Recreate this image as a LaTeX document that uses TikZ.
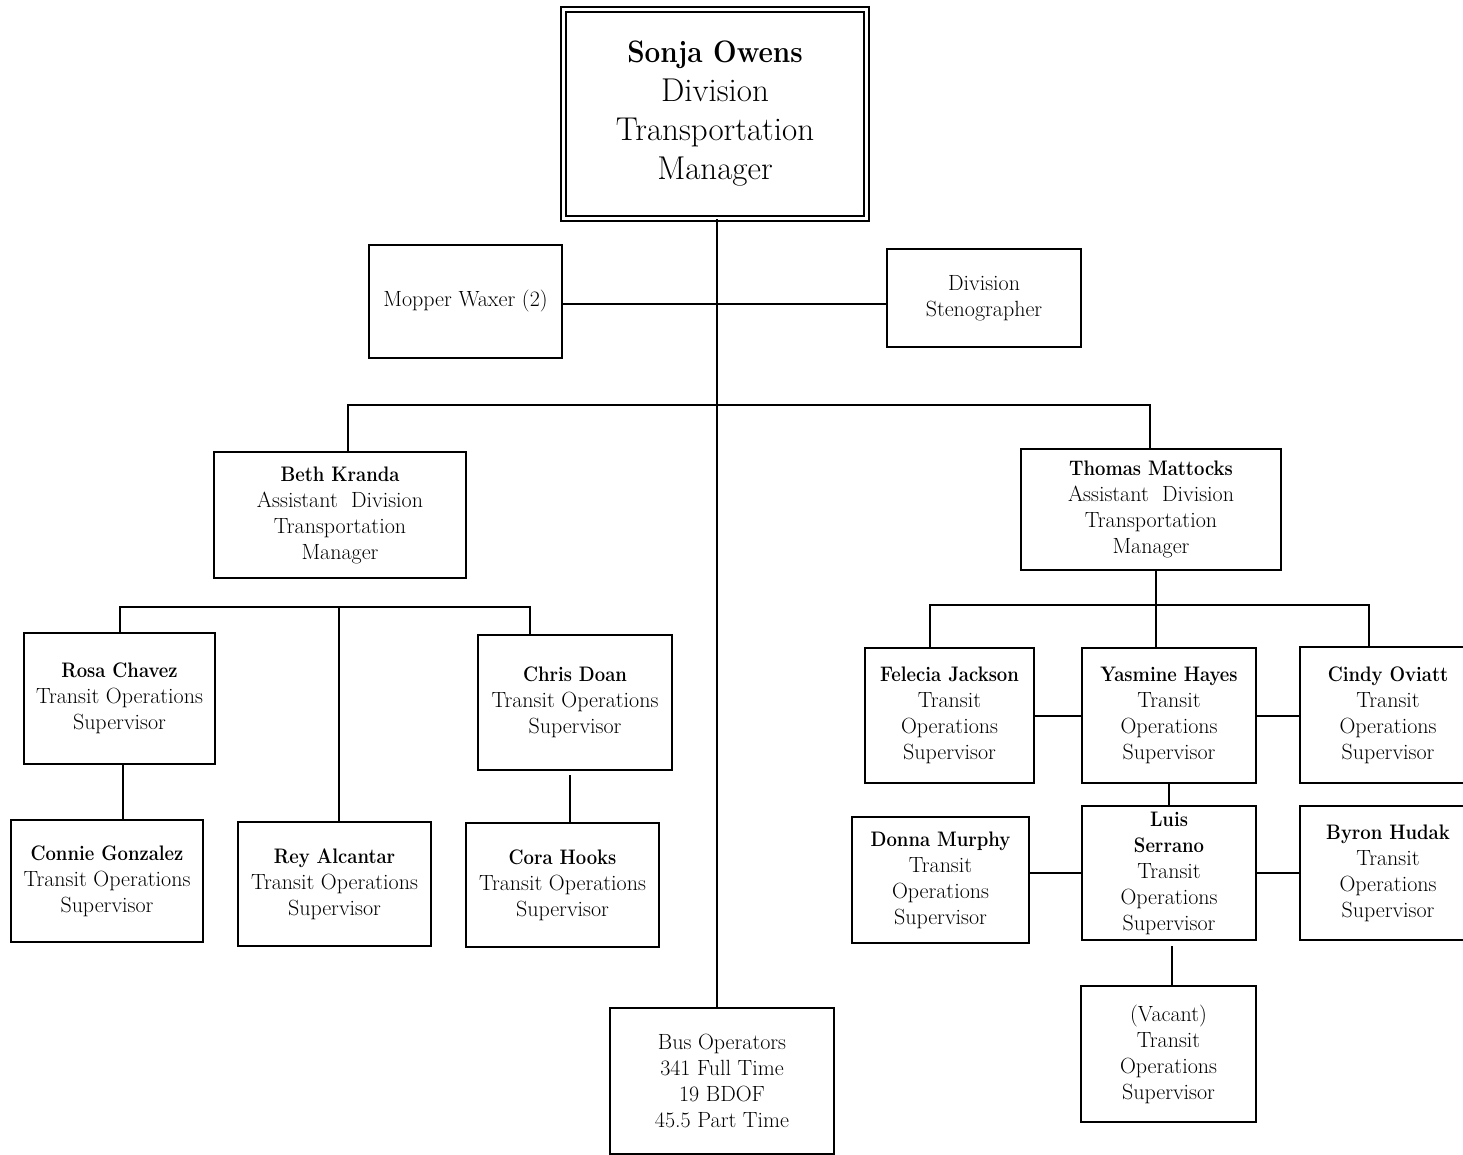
\documentclass[tikz,border=0pt]{standalone}
\usepackage{fontspec}
\newcommand\pname[1]{\scalebox{0.88}[1]{\fontsize{21}{26}\selectfont\bfseries #1}}
\begin{document}
\begin{tikzpicture}[x=1pt,y=-1pt,
  box/.style={draw, line width=2.2pt, align=center, inner sep=0pt, font=\fontsize{22}{26}\selectfont},
  conn/.style={line width=2pt}]
\useasboundingbox (0,0) rectangle (1463,1155);
\clip (0,0) rectangle (1463,1155);
\fill[white] (0,0) rectangle (1463,1155);
% top
\node[draw, double, double distance=2.6pt, line width=1.8pt, align=center, inner sep=0pt,
  minimum width=303pt, minimum height=209pt, font=\fontsize{33}{39}\selectfont] (top) at (715,114)
  {\scalebox{0.9}[1]{\fontsize{31}{39}\selectfont\bfseries Sonja Owens}\\Division\\Transportation\\Manager};
\node[box, minimum width=193pt, minimum height=113pt] (mopper) at (465.5,301.5) {Mopper Waxer (2)};
\node[box, minimum width=194pt, minimum height=98pt] (steno) at (984,298) {Division\\Stenographer};
\node[box, minimum width=252pt, minimum height=126pt] (beth) at (340,515)
  {\pname{Beth Kranda}\\Assistant\ \ Division\\Transportation\\Manager};
\node[box, minimum width=260pt, minimum height=121pt] (thomas) at (1151,509.5)
  {\pname{Thomas Mattocks}\\Assistant\ \ Division\\Transportation\\Manager};
\node[box, minimum width=191pt, minimum height=131pt] (rosa) at (119.5,698.5)
  {\pname{Rosa Chavez}\\Transit Operations\\Supervisor};
\node[box, minimum width=192pt, minimum height=122pt] (connie) at (107,881)
  {\pname{Connie Gonzalez}\\Transit Operations\\Supervisor};
\node[box, minimum width=193pt, minimum height=124pt] (rey) at (334.5,884)
  {\pname{Rey Alcantar}\\Transit Operations\\Supervisor};
\node[box, minimum width=194pt, minimum height=135pt] (chris) at (575,702.5)
  {\pname{Chris Doan}\\Transit Operations\\Supervisor};
\node[box, minimum width=193pt, minimum height=124pt] (cora) at (562.5,885)
  {\pname{Cora Hooks}\\Transit Operations\\Supervisor};
\node[box, minimum width=169pt, minimum height=135pt] (felecia) at (949.5,715.5)
  {\pname{Felecia Jackson}\\Transit\\Operations\\Supervisor};
\node[box, minimum width=174pt, minimum height=135pt] (yasmine) at (1169,715.5)
  {\pname{Yasmine Hayes}\\Transit\\Operations\\Supervisor};
\node[box, minimum width=176pt, minimum height=136pt] (cindy) at (1388,715)
  {\pname{Cindy Oviatt}\\Transit\\Operations\\Supervisor};
\node[box, minimum width=174pt, minimum height=134pt] (luis) at (1169,873)
  {\pname{Luis}\\\pname{Serrano}\\Transit\\Operations\\Supervisor};
\node[box, minimum width=177pt, minimum height=126pt] (donna) at (940.5,880)
  {\pname{Donna Murphy}\\Transit\\Operations\\Supervisor};
\node[box, minimum width=176pt, minimum height=134pt] (byron) at (1388,873)
  {\pname{Byron Hudak}\\Transit\\Operations\\Supervisor};
\node[box, minimum width=175pt, minimum height=136pt] (vacant) at (1168.5,1054)
  {(Vacant)\\Transit\\Operations\\Supervisor};
\node[box, minimum width=224pt, minimum height=146pt] (bus) at (722,1081)
  {Bus Operators\\341 Full Time\\19 BDOF\\45.5 Part Time};
% connector coordinates
\coordinate (trunk) at (717,0);
\coordinate (bl) at (348,405);
\coordinate (br) at (1150,405);
\coordinate (l1) at (120,607);
\coordinate (l2) at (339,607);
\coordinate (l3) at (530,607);
\coordinate (rc) at (123,0);
\coordinate (cc) at (570,0);
\coordinate (r1) at (930,605);
\coordinate (r2) at (1156,605);
\coordinate (r3) at (1369,605);
\coordinate (lv) at (1172,0);
\coordinate (ms) at (0,304);
% connectors
\draw[conn] (top.south -| trunk) -- (bus.north -| trunk);
\draw[conn] (mopper.east |- ms) -- (steno.west |- ms);
\draw[conn] (beth.north -| bl) -- (bl) -- (br) -- (thomas.north -| br);
\draw[conn] (rosa.north -| l1) -- (l1) -- (l3) -- (chris.north -| l3);
\draw[conn] (l2) -- (rey.north -| l2);
\draw[conn] (rosa.south -| rc) -- (connie.north -| rc);
\draw[conn] ([yshift=-4pt]chris.south -| cc) -- (cora.north -| cc);
\draw[conn] (thomas.south -| r2) -- (yasmine.north -| r2);
\draw[conn] (felecia.north -| r1) -- (r1) -- (r3) -- (cindy.north -| r3);
\draw[conn] (felecia.east) -- (yasmine.west);
\draw[conn] (yasmine.east) -- (yasmine.east -| cindy.west);
\draw[conn] (yasmine.south) -- (luis.north);
\draw[conn] (donna.east |- luis.west) -- (luis.west);
\draw[conn] (luis.east) -- (byron.west);
\draw[conn] ([yshift=-5pt]luis.south -| lv) -- (vacant.north -| lv);
\end{tikzpicture}
\end{document}
